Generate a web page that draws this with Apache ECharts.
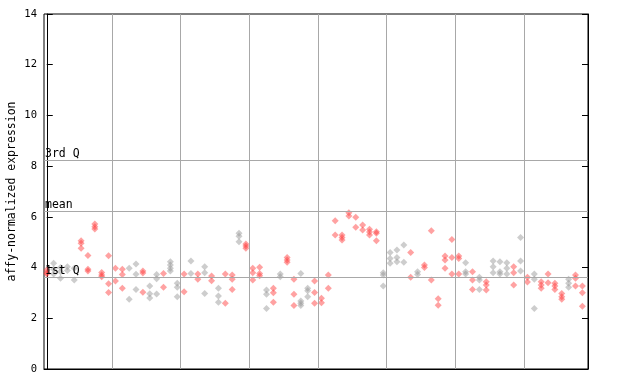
<!DOCTYPE html>
<html><head><meta charset="utf-8">
<script src="https://cdn.jsdelivr.net/npm/echarts@6/dist/echarts.min.js"></script>
<style>html,body{margin:0;padding:0;background:#fff}#c{width:640px;height:384px}</style>
</head><body><div id="c"></div>
<script>
// y axis
const yMin = 0, yMax = 14, yStep = 2;
const yTitle = 'affy-normalized expression';
// reference lines
const q3Value = 8.24, meanValue = 6.23, q1Value = 3.63;
const refLabels = ['3rd Q', 'mean', '1st Q'];
// replicate values per sample, 10 samples per column group
const group1 = [[3.9,3.8,3.75],[4.17,3.93,3.75],[4.0,3.84,3.58],[4.03,3.88],[3.97,3.51],[5.06,4.96,4.76],[4.48,3.93,3.86],[5.72,5.61,5.52],[3.81,3.71,3.64],[4.47,3.36,3.02]];
const group2 = [[3.97,3.47],[3.93,3.73,3.18],[3.97,2.75],[4.14,3.74,3.14],[3.86,3.79,3.03],[3.27,2.97,2.8],[3.73,3.56,2.96],[3.77,3.22],[4.23,4.1,3.97,3.86],[3.38,3.22,2.85]];
const group3 = [[3.75,3.05],[4.26,3.77],[3.75,3.54],[4.03,3.8,2.98],[3.67,3.48],[3.18,2.88,2.63],[3.75,2.59],[3.71,3.54,3.14],[5.35,5.24,5.02],[4.93,4.85,4.76]];
const group4 = [[3.97,3.8,3.51],[4.01,3.77,3.68],[3.12,2.95,2.39],[3.18,3.01,2.63],[3.75,3.64],[4.4,4.3,4.21],[3.54,2.95,2.5],[3.77,2.68,2.59,2.5],[3.18,3.09,2.85],[3.47,3.02,2.59]];
const group5 = [[2.79,2.61],[3.71,3.18],[5.85,5.28],[5.28,5.19,5.09],[6.16,6.03],[5.98,5.59],[5.68,5.48],[5.51,5.4,5.28],[5.41,5.35,5.06],[3.8,3.71,3.27]];
const group6 = [[4.59,4.36,4.17],[4.69,4.4,4.23],[4.89,4.21],[4.59,3.62],[3.84,3.73],[4.1,4.0],[5.45,3.51],[2.77,2.51],[4.46,4.3,3.97],[5.11,4.4,3.75]];
const group7 = [[4.46,4.36,3.75],[4.19,3.84,3.75],[3.84,3.51,3.14],[3.62,3.51,3.14],[3.44,3.31,3.12],[4.26,4.03,3.8],[4.23,3.84,3.75],[4.19,3.97,3.75],[4.03,3.8,3.31],[5.19,4.26,3.86]];
const group8 = [[3.62,3.43],[3.75,3.54,2.39],[3.44,3.31,3.18],[3.75,3.4],[3.38,3.27,3.14],[2.98,2.85,2.75],[3.54,3.38,3.22],[3.71,3.58,3.27],[3.27,3.01,2.47]];
// colour code per sample: r = red, g = gray
const colors1 = 'rggggrrrrr';
const colors2 = 'rrggrggrgg';
const colors3 = 'rgrgrgrrgr';
const colors4 = 'rrgrgrrggr';
const colors5 = 'rrrrrrrrrg';
const colors6 = 'gggrgrrrrr';
const colors7 = 'rgrgrgggrg';
const colors8 = 'rgrrrrgrr';

const groups = [group1,group2,group3,group4,group5,group6,group7,group8];
const colorCodes = [colors1,colors2,colors3,colors4,colors5,colors6,colors7,colors8];
const redData = [], grayData = [];
groups.forEach((g, gi) => {
  g.forEach((vals, j) => {
    const idx = gi * 10 + j;
    const target = colorCodes[gi][j] === 'r' ? redData : grayData;
    vals.forEach(v => target.push([idx, v]));
  });
});
const boundaries = [1,2,3,4,5,6,7].map(k => k * 10 - 0.5);

const font = 'DejaVu Sans Mono';
const chart = echarts.init(document.getElementById('c'), null, {renderer: 'canvas'});
chart.setOption({
  animation: false,
  grid: {left: 44, right: 52, top: 14, bottom: 15, containLabel: false, outerBoundsMode: 'none',
    show: true, borderColor: '#000', borderWidth: 1, backgroundColor: 'transparent'},
  xAxis: {type: 'value', min: -0.402, max: 78.82, axisLabel: {show: false}, axisTick: {show: false}, splitLine: {show: false},
    axisLine: {show: true, lineStyle: {color: '#000'}}},
  yAxis: [
    {type: 'value', min: yMin, max: yMax, interval: yStep, name: yTitle, nameLocation: 'middle', nameGap: 26, nameMoveOverlap: false,
     nameTextStyle: {fontFamily: font, fontSize: 11.5, color: '#000'},
     axisLine: {show: true, lineStyle: {color: '#000'}}, axisTick: {show: true, inside: true, length: 6, lineStyle: {color: '#000'}},
     axisLabel: {fontFamily: font, fontSize: 10.5, color: '#000', margin: 7}, splitLine: {show: false}},
    {type: 'value', min: yMin, max: yMax, interval: yStep, position: 'right',
     axisLine: {show: true, lineStyle: {color: '#000'}}, axisTick: {show: true, inside: true, length: 6, lineStyle: {color: '#000'}},
     axisLabel: {show: false}, splitLine: {show: false}}
  ],
  series: [
    {type: 'scatter', name: 'gray', data: grayData, symbol: 'diamond', symbolSize: 7,
     itemStyle: {color: 'rgba(150,150,150,0.6)'}, z: 3,
     markLine: {silent: true, symbol: 'none', animation: false,
       lineStyle: {color: '#a8a8a8', width: 1, type: 'solid'},
       label: {show: true, position: 'insideStartTop', distance: [1, 0], fontFamily: font, fontSize: 11.5, color: '#000', formatter: p => p.name},
       data: [
         {yAxis: q3Value, name: refLabels[0]},
         {yAxis: meanValue, name: refLabels[1]},
         {yAxis: q1Value, name: refLabels[2]}
       ].concat(boundaries.map(b => ({xAxis: b, name: '', label: {show: false}})))}},
    {type: 'scatter', name: 'red', data: redData, symbol: 'diamond', symbolSize: 7,
     itemStyle: {color: 'rgba(255,60,60,0.6)'}, z: 4}
  ]
});
</script></body></html>
